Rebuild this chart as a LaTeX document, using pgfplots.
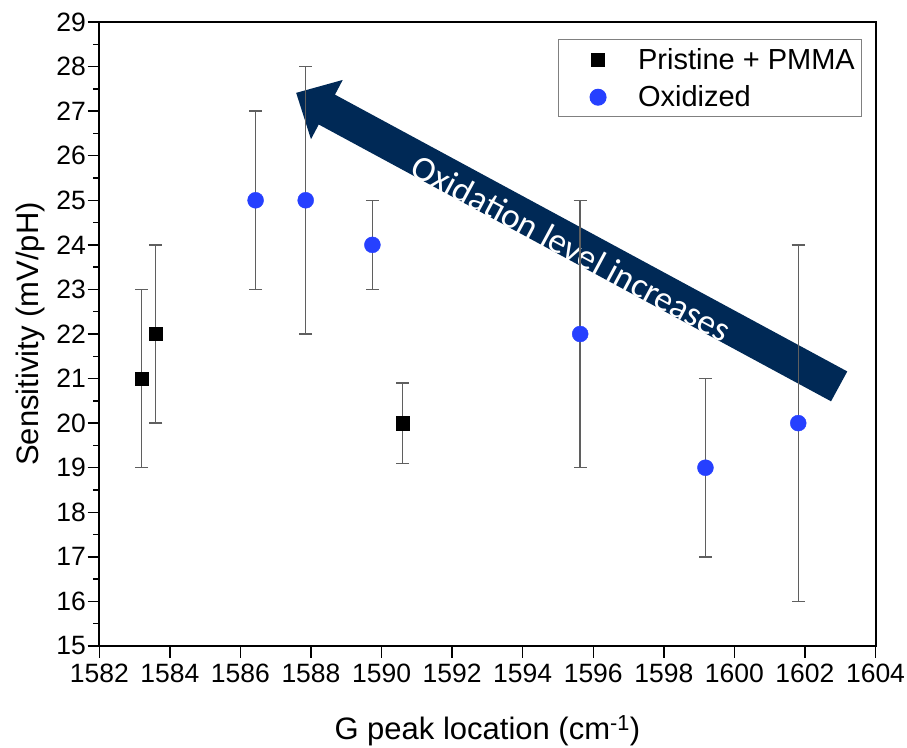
\documentclass[border=0pt]{standalone}
\usepackage{pgfplots}
\pgfplotsset{compat=1.18}
\usepackage{fontspec}
\setmainfont{Liberation Sans}
\newfontfamily\calib{Carlito}
\definecolor{dotblue}{RGB}{38,64,255}
\definecolor{navy}{RGB}{0,41,86}
\definecolor{bargray}{RGB}{95,95,95}

\begin{document}
\begin{tikzpicture}
\begin{axis}[
  set layers,
  scale only axis,
  width=776.2bp, height=624bp,
  xmin=1582, xmax=1604, ymin=15, ymax=29,
  xtick={1582,1584,...,1604}, ytick={15,16,...,29},
  minor x tick num=1, minor y tick num=1,
  tick align=outside, tick pos=left,
  major tick length=11.7bp, minor tick length=6bp,
  every tick/.style={black, line width=1.4bp},
  axis line style={line width=2bp},
  /pgf/number format/assume math mode=true,
  /pgf/number format/1000 sep={},
  tick label style={font=\fontsize{26.5bp}{30bp}\selectfont},
  xticklabel style={yshift=-3bp},
  yticklabel style={inner xsep=1.5bp},
  label style={font=\fontsize{31bp}{36bp}\selectfont},
  xlabel={G peak location (cm\textsuperscript{-1})},
  ylabel={Sensitivity (mV/pH)},
  xlabel style={at={(axis description cs:0.5,-0.1506)}, anchor=base},
  ylabel style={at={(axis description cs:-0.0777,0.5)}, anchor=base},
  legend style={at={(axis description cs:0.983,0.972)}, anchor=north east,
    draw=gray, line width=1bp, inner xsep=5bp, inner ysep=6.5bp,
    font=\fontsize{29bp}{34bp}\selectfont, row sep=11bp, column sep=18bp,
    nodes={inner sep=2bp}},
  legend cell align=left,
  legend image code/.code={
    % reserve the width of the symbol column without drawing anything
    \pgfpathmoveto{\pgfpoint{-35bp}{0bp}}%
    \pgfpathlineto{\pgfpoint{20bp}{0bp}}%
    \pgfusepath{use as bounding box}%
    \draw[only marks] plot coordinates {(0bp,0bp)};},
]

% annotation arrow behind the data
\begin{pgfonlayer}{axis background}
\fill[navy] (axis cs:1587.58,27.41) -- (axis cs:1588.90,27.70) -- (axis cs:1588.68,27.37)
  -- (axis cs:1603.20,21.16) -- (axis cs:1602.74,20.49) -- (axis cs:1588.22,26.70)
  -- (axis cs:1588.00,26.37) -- cycle;
\node[rotate=-28.3, text=white, inner sep=0pt,
  font=\calib\fontsize{35.5bp}{40bp}\selectfont] at (axis cs:1595.38,23.93) {Oxidation level increases};
\end{pgfonlayer}

\addplot[only marks, mark=square*, mark size=6.7bp, draw=black, fill=black,
  error bars/.cd, y dir=both, y explicit,
  error bar style={bargray, line width=1.4bp},
  error mark options={rotate=90, bargray, mark size=6.5bp, line width=1.4bp}]
  table[x=x, y=y, y error=e] {
x       y   e
1583.2  21  2
1583.6  22  2
1590.6  20  0.9
};
\addlegendentry{Pristine + PMMA}

\addplot[only marks, mark=*, mark size=8bp, draw=dotblue, fill=dotblue,
  error bars/.cd, y dir=both, y explicit,
  error bar style={bargray, line width=1.4bp},
  error mark options={rotate=90, bargray, mark size=6.5bp, line width=1.4bp}]
  table[x=x, y=y, y error=e] {
x        y   e
1586.43  25  2
1587.85  25  3
1589.74  24  1
1595.63  22  3
1599.18  19  2
1601.81  20  4
};
\addlegendentry{Oxidized}

\end{axis}
\pgfresetboundingbox
\path[use as bounding box] ([shift={(-99.3bp,-102bp)}]current axis.south west)
  rectangle ([shift={(31.5bp,22bp)}]current axis.north east);
\end{tikzpicture}
\end{document}
